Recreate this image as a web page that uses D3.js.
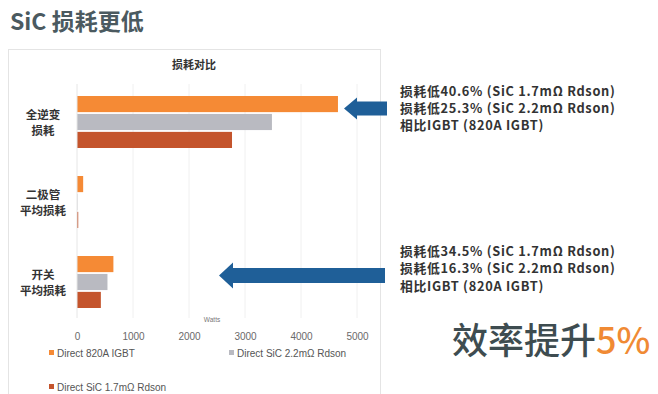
<!DOCTYPE html>
<html>
<head>
<meta charset="utf-8">
<script src="https://cdn.jsdelivr.net/npm/d3@7/dist/d3.min.js"></script>
<style>
  html, body { margin: 0; padding: 0; background: #ffffff; }
  svg { display: block; }
</style>
</head>
<body>
<svg id="chart" width="658" height="394"></svg>
<script>
// Loss categories (each label drawn on two lines)
const categories = ["全逆变损耗", "二极管平均损耗", "开关平均损耗"];
const categoryLines = [["全逆变", "损耗"], ["二极管", "平均损耗"], ["开关", "平均损耗"]];

// Series names
const seriesNames = ["Direct 820A IGBT", "Direct SiC 2.2mΩ Rdson", "Direct SiC 1.7mΩ Rdson"];

// Loss values in watts, one per category
const igbt820 = [4660, 110, 650];
const sic22 = [3481, 8, 544];
const sic17 = [2768, 22, 426];

// Axis ticks
const xTicks = [0, 1000, 2000, 3000, 4000, 5000];

// Annotation texts
const noteTop = ["损耗低40.6% (SiC 1.7mΩ Rdson)", "损耗低25.3% (SiC 2.2mΩ Rdson)", "相比IGBT (820A IGBT)"];
const noteBottom = ["损耗低34.5% (SiC 1.7mΩ Rdson)", "损耗低16.3% (SiC 2.2mΩ Rdson)", "相比IGBT (820A IGBT)"];

const seriesValues = [igbt820, sic22, sic17];
const colors = ["#f58a35", "#b9bac1", "#c4542c"];

const svg = d3.select("#chart");
const cjk = "'Noto Sans CJK SC', 'Noto Sans', sans-serif";
const latin = "'Liberation Sans', Arial, sans-serif";

// Page title
svg.append("text")
  .attr("x", 10).attr("y", 30)
  .attr("font-family", cjk).attr("font-weight", 700)
  .attr("font-size", 23).attr("fill", "#4b5a60")
  .text("SiC 损耗更低");

// Chart frame
svg.append("rect")
  .attr("x", 8.5).attr("y", 49.5).attr("width", 372).attr("height", 360)
  .attr("fill", "#ffffff").attr("stroke", "#e4e4e4");

// Chart title
svg.append("text")
  .attr("x", 194).attr("y", 69).attr("text-anchor", "middle")
  .attr("font-family", cjk).attr("font-weight", 700)
  .attr("font-size", 11).attr("fill", "#333")
  .text("损耗对比");

// Scales
const x = d3.scaleLinear().domain([0, 5000]).range([77, 357]);
const y = d3.scaleBand().domain(categories).range([82, 322])
  .paddingInner(0.35).paddingOuter(0.175);
const ySub = d3.scaleBand().domain(d3.range(seriesNames.length))
  .range([0, y.bandwidth()]).paddingInner(0.1);

// Vertical gridlines
svg.append("g").selectAll("line").data(xTicks.slice(1)).join("line")
  .attr("x1", d => x(d)).attr("x2", d => x(d))
  .attr("y1", 84).attr("y2", 318)
  .attr("stroke", "#f0f0f0").attr("stroke-width", 1);

// Bottom axis: tick labels only
const xAxis = d3.axisBottom(x).tickValues(xTicks).tickSize(0).tickPadding(0).tickFormat(d3.format("d"));
const gx = svg.append("g").attr("transform", "translate(0,333)").call(xAxis);
gx.select(".domain").remove();
gx.selectAll("text")
  .attr("font-family", latin).attr("font-size", 10)
  .attr("fill", "#6a6a6a").attr("dy", "0.71em");

// Axis title
svg.append("text")
  .attr("x", 212).attr("y", 322).attr("text-anchor", "middle")
  .attr("font-family", latin).attr("font-size", 6.5).attr("fill", "#777")
  .text("Watts");

// Bars
const groups = svg.append("g").selectAll("g").data(categories).join("g")
  .attr("transform", d => `translate(0,${y(d)})`);
groups.selectAll("rect")
  .data((c, ci) => seriesValues.map((vals, si) => ({ si, v: vals[ci] })))
  .join("rect")
  .attr("x", x(0))
  .attr("y", d => ySub(d.si))
  .attr("width", d => x(d.v) - x(0))
  .attr("height", ySub.bandwidth())
  .attr("fill", d => colors[d.si]);

// Baseline at zero
svg.append("line")
  .attr("x1", x(0)).attr("x2", x(0)).attr("y1", 84).attr("y2", 318)
  .attr("stroke", "#e6e6e6");

// Category labels
const catLabels = svg.append("g").selectAll("text").data(categories).join("text")
  .attr("x", 43)
  .attr("y", d => y(d) + y.bandwidth() / 2)
  .attr("text-anchor", "middle")
  .attr("font-family", cjk).attr("font-weight", 700)
  .attr("font-size", 11.5).attr("fill", "#333");
catLabels.each(function (d, i) {
  const t = d3.select(this);
  categoryLines[i].forEach((line, li) => {
    t.append("tspan").attr("x", 43)
      .attr("dy", li === 0 ? "-0.25em" : "1.35em")
      .text(line);
  });
});

// Legend
const legendPos = [[52, 353], [232, 353], [52, 387]];
const legend = svg.append("g").selectAll("g").data(seriesNames).join("g")
  .attr("transform", (d, i) => `translate(${legendPos[i][0]},${legendPos[i][1]})`);
legend.append("rect")
  .attr("x", -3).attr("y", -3).attr("width", 5).attr("height", 5)
  .attr("fill", (d, i) => colors[i]);
legend.append("text")
  .attr("x", 5).attr("y", 0).attr("dy", "0.35em")
  .attr("font-family", latin).attr("font-size", 10).attr("fill", "#555")
  .text(d => d);

// Arrows pointing at the bar groups
function arrowPath(tipX, cy, headBack, tailX, headHalf, shaftHalf) {
  const p = d3.path();
  p.moveTo(tipX, cy);
  p.lineTo(headBack, cy - headHalf);
  p.lineTo(headBack, cy - shaftHalf);
  p.lineTo(tailX, cy - shaftHalf);
  p.lineTo(tailX, cy + shaftHalf);
  p.lineTo(headBack, cy + shaftHalf);
  p.lineTo(headBack, cy + headHalf);
  p.closePath();
  return p.toString();
}
svg.append("path")
  .attr("d", arrowPath(344, 108.5, 357, 387, 11, 7))
  .attr("fill", "#1f5f98");
svg.append("path")
  .attr("d", arrowPath(219, 275.5, 233, 385, 13, 7.5))
  .attr("fill", "#1f5f98");

// Annotation blocks
function note(lines, x0, y0) {
  svg.append("g").selectAll("text").data(lines).join("text")
    .attr("x", x0).attr("y", (d, i) => y0 + i * 17.4)
    .attr("font-family", cjk).attr("font-weight", 700)
    .attr("font-size", 12.8).attr("letter-spacing", 0.7).attr("fill", "#333")
    .text(d => d);
}
note(noteTop, 400, 95.5);
note(noteBottom, 400, 256);

// Efficiency headline
const head = svg.append("text")
  .attr("x", 452).attr("y", 354)
  .attr("font-family", cjk).attr("font-weight", 500)
  .attr("font-size", 36);
head.append("tspan").attr("fill", "#3e4c50").text("效率提升");
head.append("tspan").attr("fill", "#f08a34").text("5%");
</script>
</body>
</html>
